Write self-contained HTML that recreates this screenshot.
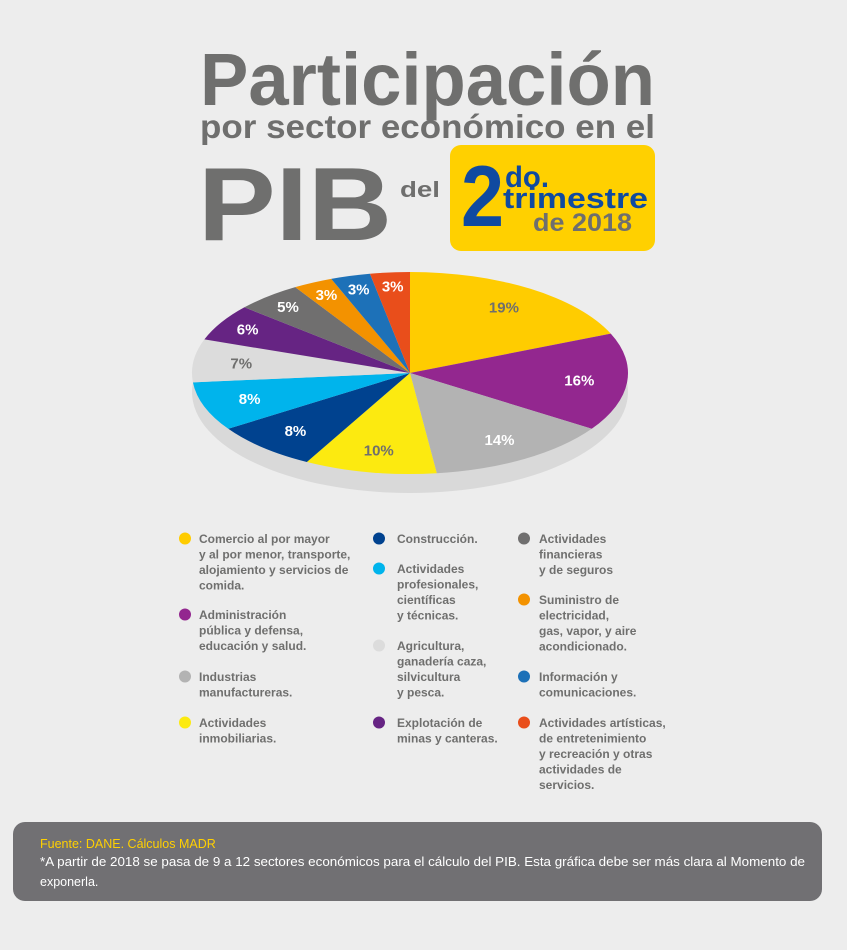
<!DOCTYPE html>
<html><head><meta charset="utf-8"><style>
html,body{margin:0;padding:0;background:#ededed;}
svg{display:block;font-family:"Liberation Sans",sans-serif;}
</style></head><body>
<svg id="chart" width="847" height="950" viewBox="0 0 847 950" xmlns="http://www.w3.org/2000/svg">
<rect width="847" height="950" fill="#ededed"/>
<g fill="#6f6f6e" font-weight="bold">
<text x="200" y="105" font-size="74" textLength="455" lengthAdjust="spacingAndGlyphs">Participación</text>
<text x="200" y="138" font-size="33" textLength="455" lengthAdjust="spacingAndGlyphs">por sector económico en el</text>
<text x="198" y="240" font-size="104" textLength="194" lengthAdjust="spacingAndGlyphs">PIB</text>
<text x="400" y="197" font-size="22" textLength="40" lengthAdjust="spacingAndGlyphs">del</text>
</g>
<g>
<rect x="450" y="145" width="205" height="106" rx="11" fill="#ffd000"/>
<text x="461" y="226" font-size="86" font-weight="bold" fill="#0f4aa0" textLength="43" lengthAdjust="spacingAndGlyphs">2</text>
<text x="505" y="187" font-size="30" font-weight="bold" fill="#0f4aa0" textLength="44" lengthAdjust="spacingAndGlyphs">do.</text>
<text x="503" y="208" font-size="29" font-weight="bold" fill="#0f4aa0" textLength="145" lengthAdjust="spacingAndGlyphs">trimestre</text>
<text x="533" y="231" font-size="25" font-weight="bold" fill="#6f6f6e" textLength="99" lengthAdjust="spacingAndGlyphs">de 2018</text>
</g>
<g id="pie"></g>
<g id="legend"></g>
<g>
<rect x="13" y="822" width="809" height="79" rx="12" fill="#717073"/>
<text x="40" y="848" font-size="12.5" fill="#ffd000">Fuente: DANE. Cálculos MADR</text>
<text x="40" y="866" font-size="12.5" fill="#ffffff" textLength="765" lengthAdjust="spacingAndGlyphs">*A partir de 2018 se pasa de 9 a 12 sectores económicos para el cálculo del PIB. Esta gráfica debe ser más clara al Momento de</text>
<text x="40" y="886" font-size="12.5" fill="#ffffff">exponerla.</text>
</g>
</svg>
<script>
const values=[19,16,14,10,8,8,7,6,5,3,3,3];
const labels=["19%","16%","14%","10%","8%","8%","7%","6%","5%","3%","3%","3%"];
const sliceNames=["comercio","administracion","industrias","inmobiliarias","construccion","profesionales","agricultura","mineria","financieras","electricidad","informacion","artisticas"];
const colors=["#ffcc00","#93278f","#b3b3b3","#fcea10","#00428f","#00b4ec","#dcdcdc","#662483","#706f6f","#f39200","#1d71b8","#e94e1b"];
const labelColors=["#6f6f6e","#fff","#fff","#6f6f6e","#fff","#fff","#6f6f6e","#fff","#fff","#fff","#fff","#fff"];
const NS="http://www.w3.org/2000/svg";
const cx=410,cy=373,rx=218,ry=101,depth=19;
const pie=document.getElementById('pie');
const total=values.reduce((a,b)=>a+b,0);
function px(t,r){return cx+rx*r*Math.sin(t);}
function py(t,r){return cy-ry*r*Math.cos(t);}
const sh=document.createElementNS(NS,'ellipse');
sh.setAttribute('cx',cx);sh.setAttribute('cy',cy+depth);sh.setAttribute('rx',rx);sh.setAttribute('ry',ry);sh.setAttribute('fill','#d9d9d9');


pie.appendChild(sh);
let a=0;
values.forEach((v,i)=>{
  const t0=a/total*2*Math.PI; a+=v; const t1=a/total*2*Math.PI;
  const large=(t1-t0)>Math.PI?1:0;
  const p=document.createElementNS(NS,'path');
  p.setAttribute('d',`M${cx},${cy}L${px(t0,1)},${py(t0,1)}A${rx},${ry} 0 ${large} 1 ${px(t1,1)},${py(t1,1)}Z`);
  p.setAttribute('fill',colors[i]);
  
  
  pie.appendChild(p);
  const tm=(t0+t1)/2;
  const r=v<=6?0.86:0.78;
  const tx=document.createElementNS(NS,'text');
  tx.setAttribute('x',px(tm,r));tx.setAttribute('y',py(tm,r)+5);
  tx.setAttribute('text-anchor','middle');tx.setAttribute('font-size','15');tx.setAttribute('font-weight','bold');
  tx.setAttribute('fill',labelColors[i]);
  tx.textContent=labels[i];
  
  
  pie.appendChild(tx);
});
const legendText=[
 ["Comercio al por mayor","y al por menor, transporte,","alojamiento y servicios de","comida."],
 ["Administración","pública y defensa,","educación y salud."],
 ["Industrias","manufactureras."],
 ["Actividades","inmobiliarias."],
 ["Construcción."],
 ["Actividades","profesionales,","científicas","y técnicas."],
 ["Agricultura,","ganadería caza,","silvicultura","y pesca."],
 ["Explotación de","minas y canteras."],
 ["Actividades","financieras","y de seguros"],
 ["Suministro de","electricidad,","gas, vapor, y aire","acondicionado."],
 ["Información y","comunicaciones."],
 ["Actividades artísticas,","de entretenimiento","y recreación y otras","actividades de","servicios."]
];
const legX=[[185,199],[185,199],[185,199],[185,199],[379,397],[379,397],[379,397],[379,397],[524,539],[524,539],[524,539],[524,539]];
const legY=[543,619,681,727,543,573,650,727,543,604,681,727];
const leg=document.getElementById('legend');
legendText.forEach((lines,i)=>{
  const g=document.createElementNS(NS,'g');
  
  
  const c=document.createElementNS(NS,'circle');
  c.setAttribute('cx',legX[i][0]);c.setAttribute('cy',legY[i]-4.5);c.setAttribute('r',6);c.setAttribute('fill',colors[i]);
  
  
  g.appendChild(c);
  lines.forEach((l,j)=>{
    const t=document.createElementNS(NS,'text');
    t.setAttribute('x',legX[i][1]);t.setAttribute('y',legY[i]+j*15.5);
    t.setAttribute('font-size','12');t.setAttribute('font-weight','bold');t.setAttribute('fill','#6f6f6e');
    t.textContent=l;
    
    
    g.appendChild(t);
  });
  leg.appendChild(g);
});
</script>
</body></html>
